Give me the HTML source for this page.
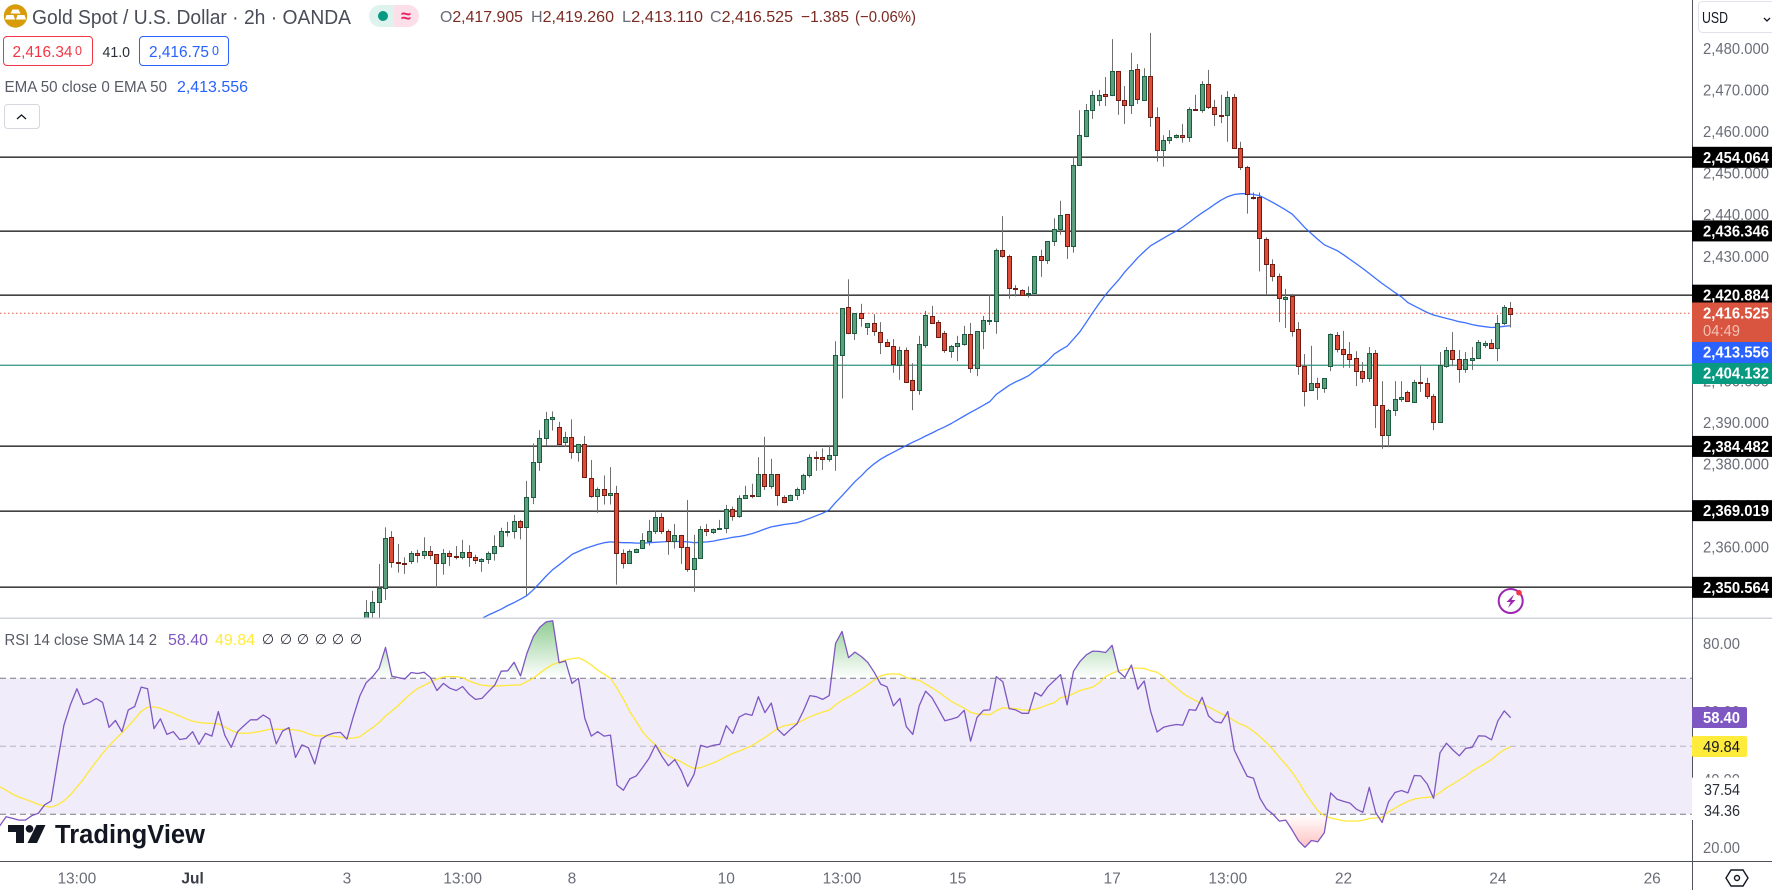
<!DOCTYPE html>
<html lang="en">
<head>
<meta charset="utf-8">
<title>Gold Spot / U.S. Dollar 2h chart</title>
<style>
html,body{margin:0;padding:0;background:#fff;}
svg{display:block;font-family:"Liberation Sans",sans-serif;}
.axis{fill:#6a6d78;font-size:16px;}
.tag{fill:#fff;font-size:16px;font-weight:700;}
.legend{fill:#585b66;font-size:16px;}
.ohlc{fill:#7a2a22;font-size:16px;}
.ohlc tspan{fill:#6a6d78;}
.time{fill:#6a6d78;font-size:15.5px;text-anchor:middle;}
</style>
</head>
<body>
<svg id="chart" width="1772" height="890" viewBox="0 0 1772 890" xmlns="http://www.w3.org/2000/svg">
  <defs>
    <clipPath id="priceClip"><rect x="0" y="0" width="1692" height="617.5"/></clipPath>
    <clipPath id="rsiClip"><rect x="0" y="619" width="1692" height="242"/></clipPath>
    <clipPath id="aboveClip"><rect id="aboveRect" x="0" y="619" width="1692" height="59.3"/></clipPath>
    <clipPath id="belowClip"><rect id="belowRect" x="0" y="814.3" width="1692" height="47"/></clipPath>
    <linearGradient id="obGrad" gradientUnits="userSpaceOnUse" x1="0" y1="621" x2="0" y2="678">
      <stop offset="0" stop-color="#4caf50" stop-opacity="0.62"/>
      <stop offset="1" stop-color="#4caf50" stop-opacity="0"/>
    </linearGradient>
    <linearGradient id="osGrad" gradientUnits="userSpaceOnUse" x1="0" y1="814" x2="0" y2="848">
      <stop offset="0" stop-color="#ff5252" stop-opacity="0"/>
      <stop offset="1" stop-color="#ff5252" stop-opacity="0.36"/>
    </linearGradient>
  </defs>
  <rect x="0" y="0" width="1772" height="890" fill="#ffffff"/>

  <g id="levelLayer"></g>
  <g id="emaLayer" clip-path="url(#priceClip)"></g>
  <g id="candleLayer" clip-path="url(#priceClip)"></g>

  <rect id="rsiBand" x="0" y="678.3" width="1692" height="136" fill="#f0ecf9"/>
  <g id="rsiGuides"></g>
  <g id="rsiLayer" clip-path="url(#rsiClip)"></g>

  <rect x="0" y="617.5" width="1772" height="1.5" fill="#d1d4dc"/>
  <rect x="0" y="861" width="1772" height="1" fill="#50535e"/>
  <rect x="1692" y="0" width="1" height="890" fill="#50535e"/>

  <g id="priceAxis"></g>
  <g id="rsiAxis"></g>
  <g id="timeAxis"></g>
  <g id="levelTags"></g>

  <g>
    <rect x="1692" y="302.5" width="80" height="39.5" fill="#d9553f"/>
    <text class="tag" x="1703" y="318.5" textLength="66" lengthAdjust="spacingAndGlyphs">2,416.525</text>
    <text x="1703" y="336" fill="#f3c0b6" font-size="16" textLength="37" lengthAdjust="spacingAndGlyphs">04:49</text>
  </g>
  <g>
    <rect x="1692" y="342" width="80" height="21" fill="#2962ff"/>
    <text class="tag" x="1703" y="357.5" textLength="66" lengthAdjust="spacingAndGlyphs">2,413.556</text>
  </g>
  <g>
    <rect x="1692" y="363" width="80" height="21" fill="#089981"/>
    <text class="tag" x="1703" y="378.5" textLength="66" lengthAdjust="spacingAndGlyphs">2,404.132</text>
  </g>

  <g>
    <rect x="1692" y="707" width="55" height="21" rx="2" fill="#7e57c2"/>
    <text class="tag" x="1703" y="723" textLength="37" lengthAdjust="spacingAndGlyphs">58.40</text>
    <rect x="1692" y="736" width="55" height="21" rx="2" fill="#ffeb3b"/>
    <text x="1703" y="752" fill="#131722" font-size="16" textLength="37" lengthAdjust="spacingAndGlyphs">49.84</text>
    <rect x="1692" y="777.7" width="80" height="42.3" fill="#ffffff"/>
    <text x="1704" y="795" fill="#2a2e39" font-size="16" textLength="36" lengthAdjust="spacingAndGlyphs">37.54</text>
    <text x="1704" y="816" fill="#2a2e39" font-size="16" textLength="36" lengthAdjust="spacingAndGlyphs">34.36</text>
  </g>

  <g>
    <circle cx="15.5" cy="16" r="11.7" fill="#d89c0a"/>
    <path d="M12.5 9.5h6l2 4h-10zM6.5 15h7l1.5 4.5H5zM17.5 15h7l1.5 4.5H16z" fill="#ffffff"/>
    <text x="32" y="24" fill="#4a4d57" font-size="20" textLength="319" lengthAdjust="spacingAndGlyphs">Gold Spot / U.S. Dollar · 2h · OANDA</text>
    <path d="M394 5h-14a11 11 0 0 0 0 22h14z" fill="#dff3ee"/>
    <path d="M394 5h14a11 11 0 0 1 0 22h-14z" fill="#fcdfe8"/>
    <circle cx="383" cy="16" r="5" fill="#089981"/>
    <text x="406" y="22" fill="#e91e63" font-size="18" font-weight="700" text-anchor="middle">≈</text>
    <text class="ohlc" x="440" y="22" textLength="83" lengthAdjust="spacingAndGlyphs"><tspan>O</tspan>2,417.905</text>
    <text class="ohlc" x="531" y="22" textLength="83" lengthAdjust="spacingAndGlyphs"><tspan>H</tspan>2,419.260</text>
    <text class="ohlc" x="622" y="22" textLength="81" lengthAdjust="spacingAndGlyphs"><tspan>L</tspan>2,413.110</text>
    <text class="ohlc" x="710" y="22" textLength="83" lengthAdjust="spacingAndGlyphs"><tspan>C</tspan>2,416.525</text>
    <text class="ohlc" x="801" y="22" textLength="48" lengthAdjust="spacingAndGlyphs">−1.385</text>
    <text class="ohlc" x="855" y="22" textLength="61" lengthAdjust="spacingAndGlyphs">(−0.06%)</text>
  </g>

  <g>
    <rect x="3.5" y="36.5" width="89" height="29" rx="3.5" fill="#fff" stroke="#f23645"/>
    <text x="12.5" y="57" fill="#f23645" font-size="16" textLength="60" lengthAdjust="spacingAndGlyphs">2,416.34</text>
    <text x="75" y="55" fill="#f23645" font-size="12.5">0</text>
    <text x="102.5" y="57" fill="#2a2e39" font-size="15" textLength="27.5" lengthAdjust="spacingAndGlyphs">41.0</text>
    <rect x="139.5" y="36.5" width="89" height="29" rx="3.5" fill="#fff" stroke="#2962ff"/>
    <text x="149" y="57" fill="#2962ff" font-size="16" textLength="60" lengthAdjust="spacingAndGlyphs">2,416.75</text>
    <text x="212" y="55" fill="#2962ff" font-size="12.5">0</text>
  </g>

  <text class="legend" x="4.5" y="92" textLength="162.5" lengthAdjust="spacingAndGlyphs">EMA 50 close 0 EMA 50</text>
  <text x="177" y="92" fill="#2962ff" font-size="16" textLength="71" lengthAdjust="spacingAndGlyphs">2,413.556</text>
  <g>
    <rect x="4.5" y="104.5" width="35" height="24" rx="3" fill="#fff" stroke="#d6d8e0"/>
    <path d="M17 119l4.500-4 4.500 4" fill="none" stroke="#131722" stroke-width="1.300"/>
  </g>

  <g>
    <text class="legend" x="4.500" y="645" textLength="152.500" lengthAdjust="spacingAndGlyphs">RSI 14 close SMA 14 2</text>
    <text x="168" y="645" fill="#7e57c2" font-size="16" textLength="40" lengthAdjust="spacingAndGlyphs">58.40</text>
    <text x="215" y="645" fill="#ffeb3b" font-size="16" textLength="40" lengthAdjust="spacingAndGlyphs">49.84</text>
    <text x="268" y="644" fill="#2a2e39" font-size="14" text-anchor="middle">∅</text>
    <text x="286" y="644" fill="#2a2e39" font-size="14" text-anchor="middle">∅</text>
    <text x="303" y="644" fill="#2a2e39" font-size="14" text-anchor="middle">∅</text>
    <text x="321" y="644" fill="#2a2e39" font-size="14" text-anchor="middle">∅</text>
    <text x="338" y="644" fill="#2a2e39" font-size="14" text-anchor="middle">∅</text>
    <text x="356" y="644" fill="#2a2e39" font-size="14" text-anchor="middle">∅</text>
  </g>

  <g>
    <path d="M8 825h16v18h-8v-11h-8z" fill="#131722"/>
    <circle cx="29.500" cy="828.800" r="3.800" fill="#131722"/>
    <path d="M36.500 825h9l-8.500 18h-9.500z" fill="#131722"/>
    <text x="55" y="843" fill="#131722" font-size="25.500" font-weight="700" textLength="150" lengthAdjust="spacingAndGlyphs">TradingView</text>
  </g>

  <g>
    <rect x="1698.500" y="1.500" width="80" height="31" rx="4" fill="#fff" stroke="#e0e3eb"/>
    <text x="1702" y="23" fill="#131722" font-size="16" textLength="26" lengthAdjust="spacingAndGlyphs">USD</text>
    <path d="M1764 18l3 3 3-3" fill="none" stroke="#131722" stroke-width="1.300"/>
  </g>

  <g>
    <circle cx="1510.700" cy="601" r="12" fill="#fff" stroke="#9c27b0" stroke-width="2"/>
    <path d="M1514 594.500l-7.500 7.500h4l-2.500 6 7.500-8h-4z" fill="#9c27b0"/>
    <circle cx="1519" cy="592.700" r="2.800" fill="#f23645"/>
  </g>

  <g>
    <path d="M1731 870h12l5 8-5 8h-12l-5-8z" fill="none" stroke="#131722" stroke-width="1.400"/>
    <circle cx="1737" cy="878" r="2.500" fill="none" stroke="#131722" stroke-width="1.400"/>
  </g>
</svg>

<script>
const firstCandleBar = 0;
const openPrices = [
2341.9,2344.6,2347.0,2350.3,2362.6,2356.6,2356.4,2356.8,2358.8,2358.4,
2359.3,2358.5,2356.4,2358.8,2358.0,2357.7,2359.0,2357.9,2356.8,2357.3,
2358.8,2360.5,2364.1,2364.1,2366.5,2365.0,2372.2,2380.7,2386.4,2391.0,
2389.2,2385.4,2386.7,2383.0,2385.0,2377.0,2372.6,2374.2,2372.6,2373.2,
2358.8,2356.5,2358.9,2359.9,2361.8,2364.1,2367.4,2364.1,2361.7,2363.1,
2360.2,2354.9,2357.6,2364.5,2363.7,2364.7,2364.7,2369.3,2367.6,2371.9,
2372.7,2372.4,2377.8,2374.8,2377.8,2372.4,2371.8,2372.7,2374.2,2377.5,
2382.0,2381.9,2381.4,2382.3,2406.4,2418.0,2411.7,2416.5,2413.1,2414.1,
2411.9,2409.5,2408.6,2404.2,2407.8,2400.4,2398.0,2408.7,2415.8,2414.4,
2411.7,2407.5,2408.5,2409.2,2411.5,2403.2,2412.1,2414.8,2414.8,2431.7,
2430.2,2422.6,2422.1,2421.2,2421.3,2430.2,2429.3,2433.9,2436.7,2440.3,
2432.6,2452.1,2459.2,2465.4,2467.8,2469.2,2469.0,2474.8,2467.8,2466.5,
2475.2,2467.9,2473.6,2463.7,2455.7,2458.1,2458.9,2459.4,2458.9,2465.6,
2465.3,2471.6,2466.1,2464.2,2464.1,2468.5,2456.2,2451.7,2444.5,2444.4,
2434.3,2428.3,2425.4,2420.0,2420.8,2412.7,2403.8,2397.9,2399.7,2398.6,
2403.7,2411.2,2407.9,2406.7,2405.7,2402.6,2400.8,2406.9,2394.4,2387.1,
2393.1,2395.8,2397.5,2395.2,2399.9,2399.7,2396.5,2390.2,2403.9,2407.6,
2405.5,2403.0,2405.4,2405.7,2408.7,2409.3,2408.2,2414.1,2417.905];
const highPrices = [
2347.5,2349.7,2356.2,2365.0,2364.1,2361.0,2357.8,2359.3,2359.6,2362.6,
2360.5,2358.5,2359.8,2359.4,2360.5,2362.0,2360.7,2358.4,2357.6,2359.2,
2363.1,2364.9,2366.3,2368.0,2366.8,2376.2,2385.2,2388.4,2392.8,2392.9,
2390.4,2388.0,2391.0,2385.0,2387.0,2381.2,2374.6,2377.5,2379.5,2375.0,
2359.7,2359.7,2359.9,2363.6,2366.8,2368.9,2368.4,2364.5,2365.8,2363.2,
2371.6,2363.2,2365.3,2365.8,2364.7,2366.8,2370.4,2370.0,2372.7,2375.0,
2375.5,2381.9,2386.8,2381.5,2377.8,2372.7,2372.9,2374.6,2377.9,2382.6,
2383.3,2384.0,2384.8,2409.8,2417.8,2424.7,2416.5,2418.8,2414.1,2416.3,
2414.4,2410.3,2410.3,2408.5,2408.3,2404.5,2411.1,2417.1,2418.3,2414.9,
2412.3,2408.9,2411.1,2413.5,2414.2,2412.2,2415.9,2420.9,2432.1,2439.9,
2430.6,2423.3,2422.3,2423.0,2430.3,2431.8,2433.9,2439.4,2443.6,2440.3,
2454.1,2465.4,2466.9,2470.1,2470.3,2473.4,2482.5,2474.8,2471.2,2479.2,
2476.5,2475.5,2484.0,2466.1,2459.4,2460.6,2459.6,2462.1,2466.1,2469.1,
2472.4,2475.1,2467.9,2469.1,2470.0,2469.3,2457.8,2452.0,2445.6,2445.6,
2434.8,2429.5,2426.1,2422.4,2421.2,2414.4,2406.7,2408.7,2401.0,2400.9,
2411.7,2412.0,2412.3,2409.6,2407.4,2404.8,2408.4,2407.7,2400.2,2393.5,
2400.2,2400.2,2397.9,2400.5,2404.1,2401.0,2397.1,2407.2,2408.4,2412.0,
2407.7,2407.2,2408.4,2410.1,2409.9,2410.3,2416.1,2418.5,2419.26];
const lowPrices = [
2340.7,2342.7,2343.1,2347.5,2355.3,2354.1,2353.8,2356.2,2356.5,2357.4,
2357.2,2350.5,2353.6,2355.7,2357.3,2357.3,2355.5,2356.2,2354.3,2356.2,
2357.0,2360.2,2362.8,2362.3,2362.1,2348.7,2370.6,2378.6,2384.6,2388.3,
2385.1,2384.4,2381.5,2380.8,2377.0,2372.1,2368.5,2370.5,2370.5,2351.2,
2355.1,2356.4,2358.8,2359.9,2360.6,2363.4,2363.4,2358.4,2359.9,2356.2,
2354.3,2349.5,2357.6,2362.9,2363.4,2364.5,2363.6,2366.6,2367.3,2371.8,
2372.0,2372.4,2374.0,2374.3,2370.2,2370.8,2371.4,2371.6,2373.0,2377.0,
2378.6,2378.8,2380.8,2378.6,2396.0,2411.5,2410.1,2413.3,2411.3,2411.1,
2406.7,2408.4,2402.2,2400.5,2400.1,2393.2,2396.9,2408.2,2414.0,2410.8,
2407.0,2405.8,2405.0,2408.7,2402.2,2401.4,2407.9,2413.7,2411.6,2429.9,
2420.0,2420.6,2420.9,2420.3,2421.2,2425.3,2428.4,2432.7,2435.4,2429.6,
2431.1,2452.0,2458.9,2463.3,2466.4,2466.4,2468.8,2464.3,2462.1,2464.5,
2466.9,2467.7,2461.4,2453.0,2451.8,2457.3,2458.6,2457.6,2457.8,2465.4,
2464.8,2465.7,2461.6,2462.3,2457.8,2456.2,2451.0,2440.5,2443.9,2426.6,
2420.9,2424.2,2414.4,2413.0,2410.9,2401.7,2394.1,2397.9,2395.7,2397.4,
2402.6,2407.1,2403.4,2403.4,2399.0,2399.8,2400.0,2388.9,2383.9,2384.3,
2391.8,2395.2,2395.2,2394.9,2397.6,2395.9,2388.4,2390.2,2403.4,2403.8,
2399.8,2402.2,2402.9,2405.6,2408.2,2408.0,2405.0,2413.7,2413.11];
const closePrices = [
2344.6,2347.0,2350.4,2362.4,2356.5,2356.4,2356.1,2358.8,2358.4,2359.3,
2358.4,2356.4,2358.8,2358.0,2357.7,2359.0,2357.7,2357.1,2357.3,2358.8,
2360.5,2364.1,2364.2,2366.5,2365.0,2372.2,2380.7,2386.4,2391.0,2391.5,
2385.2,2386.7,2383.0,2385.0,2377.0,2372.6,2374.2,2372.7,2373.2,2358.7,
2356.5,2359.3,2359.7,2361.9,2364.1,2367.4,2364.0,2361.7,2363.1,2360.1,
2354.9,2357.6,2364.5,2364.0,2364.5,2364.8,2369.3,2367.6,2372.0,2372.7,
2372.4,2377.8,2374.8,2377.8,2372.7,2371.2,2372.9,2374.2,2377.5,2381.9,
2381.8,2381.4,2382.3,2406.4,2417.7,2411.7,2416.5,2415.3,2414.1,2412.1,
2409.5,2408.6,2404.2,2407.7,2400.2,2398.0,2409.1,2416.0,2414.0,2410.9,
2407.5,2408.6,2409.3,2411.5,2403.2,2412.2,2414.8,2414.9,2431.8,2430.2,
2422.6,2422.5,2421.0,2421.4,2430.2,2429.2,2433.9,2436.7,2440.1,2432.6,
2452.1,2459.4,2465.4,2469.0,2469.0,2468.7,2474.8,2467.8,2466.5,2475.0,
2468.0,2473.6,2463.7,2455.7,2458.2,2458.9,2459.4,2458.9,2465.6,2465.4,
2471.6,2466.0,2464.3,2464.1,2468.5,2456.2,2451.6,2445.2,2444.4,2434.6,
2428.3,2425.4,2420.0,2420.4,2412.3,2403.7,2397.9,2399.7,2398.7,2400.9,
2411.5,2407.9,2406.6,2405.6,2402.5,2400.8,2406.9,2394.3,2387.1,2393.2,
2395.8,2396.3,2395.3,2399.9,2399.6,2396.5,2390.2,2404.0,2407.7,2405.5,
2403.0,2405.5,2405.8,2409.5,2409.3,2408.2,2414.1,2418.0,2416.525];

const firstEmaBar = 17;
const emaValues = [
2342.2,2343.1,2343.9,2344.6,2345.3,2346.2,2346.9,2347.7,2348.6,2350.0,
2351.6,2353.3,2354.8,2356.0,2357.2,2358.5,2359.2,2359.9,2360.4,2360.9,
2361.3,2361.5,2361.4,2361.3,2361.3,2361.2,2361.2,2361.3,2361.4,2361.5,
2361.6,2361.6,2361.6,2361.5,2361.3,2361.4,2361.5,2361.7,2362.0,2362.3,
2362.6,2362.8,2363.1,2363.5,2364.0,2364.6,2365.1,2365.4,2365.7,2365.9,
2366.1,2366.6,2367.2,2367.8,2368.4,2369.2,2371.0,2372.6,2374.3,2376.0,
2377.4,2379.0,2380.3,2381.4,2382.3,2383.1,2383.9,2384.7,2385.5,2386.2,
2387.0,2387.7,2388.5,2389.2,2390.0,2390.9,2391.8,2392.7,2393.5,2394.4,
2395.3,2397.0,2398.1,2399.2,2400.0,2400.7,2401.5,2402.7,2403.8,2405.1,
2406.7,2407.7,2408.6,2410.3,2412.1,2414.4,2416.7,2418.9,2421.0,2422.8,
2424.5,2426.5,2428.2,2429.9,2431.4,2432.8,2433.7,2434.6,2435.5,2436.3,
2437.3,2438.4,2439.6,2440.7,2441.7,2442.8,2443.8,2444.6,2445.1,2445.3,
2445.3,2445.1,2444.8,2444.0,2443.2,2442.3,2441.4,2440.4,2438.8,2437.1,
2435.7,2434.3,2433.0,2432.3,2431.6,2430.6,2429.5,2428.4,2427.3,2426.1,
2424.9,2423.7,2422.6,2421.5,2420.5,2419.1,2418.3,2417.5,2416.7,2416.1,
2415.7,2415.3,2414.9,2414.5,2414.2,2413.8,2413.5,2413.3,2413.1,2413.2,
2413.4,2413.556];

const firstRsiBar = -57;
const rsiValues = [
26.6,29.3,28.8,28.3,28.3,29.6,30.3,32.8,33.9,45.5,56.3,62.2,66.9,62.3,62.9,64.1,62.9,55.6,57.6,54.3,
60.7,61.7,67.4,66.9,55.2,58.1,53.5,54.3,52.0,52.3,54.3,50.6,53.8,53.0,60.2,53.3,49.7,54.3,56.1,57.8,
57.8,59.2,58.0,50.7,54.5,55.5,46.7,50.4,49.6,44.8,52.1,53.3,53.9,54.1,52.1,58.7,64.8,
68.7,70.5,72.9,79.1,70.6,70.2,69.8,71.7,71.4,71.8,70.2,66.4,68.5,67.1,66.4,67.6,65.3,63.8,64.1,66.1,
68.0,72.1,72.2,74.7,70.7,77.4,82.3,85.0,86.6,86.9,74.6,75.1,68.5,70.0,58.2,53.0,54.3,53.0,53.3,38.6,
37.1,40.4,41.3,43.8,46.5,50.4,47.0,44.3,46.1,42.8,38.2,41.8,50.3,49.7,50.3,50.6,56.1,53.8,58.6,59.6,
59.1,64.6,59.9,62.7,55.0,53.2,55.0,56.6,60.4,64.9,64.6,63.8,64.9,80.3,83.8,76.1,77.7,76.4,74.7,71.8,
68.3,67.5,61.9,64.1,55.8,53.5,61.9,66.2,64.3,60.9,57.5,58.0,58.6,60.6,51.5,58.5,60.6,60.7,70.5,69.0,
61.1,60.7,59.7,59.7,65.8,64.8,67.5,69.3,71.1,62.2,72.1,74.9,76.9,78.0,77.9,77.6,79.7,72.0,70.3,73.9,
66.8,69.2,60.2,54.2,55.6,56.1,56.4,56.2,60.8,60.6,64.4,58.9,57.2,56.9,60.2,48.9,45.0,41.2,40.6,34.7,
31.6,30.1,28.0,28.3,25.4,22.2,20.3,22.3,21.9,24.6,36.3,34.4,33.8,33.3,31.5,30.6,37.9,30.5,27.6,33.7,
36.4,37.0,36.3,41.4,41.3,38.9,34.7,48.1,50.9,48.9,47.2,49.4,49.7,53.1,53.0,51.9,57.5,60.4,58.40];
const smaValues = [
38.1,37.1,35.9,35.1,34.4,33.7,32.9,32.4,32.1,32.8,34.0,35.7,38.0,40.3,43.0,45.5,47.9,50.1,52.1,53.9,
55.9,58.0,60.3,61.5,61.6,61.2,60.4,59.7,58.9,58.1,57.4,57.0,56.8,56.7,56.6,55.7,54.7,53.9,53.8,53.9,
54.2,54.6,55.0,55.0,55.0,55.0,54.8,54.4,53.7,53.1,53.1,53.1,52.9,52.7,52.4,52.4,52.8,
54.2,55.5,57.0,58.9,60.4,62.0,63.9,65.6,67.0,67.9,68.9,69.8,70.4,70.5,70.5,70.2,69.2,68.5,68.0,67.8,
67.7,67.8,67.9,68.0,68.1,69.1,70.1,71.5,72.9,74.1,74.7,75.4,75.8,76.0,75.2,73.9,72.4,71.2,70.0,67.1,
63.9,60.2,57.3,54.2,52.1,50.4,48.5,47.2,46.3,45.4,44.3,43.5,43.7,44.4,45.1,46.0,47.0,47.9,48.6,49.4,
50.2,51.4,52.6,53.9,55.3,56.0,56.4,56.8,57.7,58.7,59.4,60.1,60.6,62.2,63.5,64.5,65.7,66.8,68.1,69.5,
70.7,71.2,71.3,71.2,70.2,69.7,69.4,68.3,67.2,66.0,64.6,63.2,62.2,61.2,60.0,59.5,59.4,59.3,60.5,61.3,
61.2,61.1,60.7,60.6,60.9,61.5,62.2,62.8,64.3,64.7,65.5,66.4,66.9,67.4,68.7,70.5,71.5,72.2,72.6,73.0,
73.0,72.9,72.2,71.8,70.5,68.7,67.2,65.6,64.4,63.4,62.5,61.6,60.6,59.6,58.7,57.5,56.5,55.7,54.4,52.8,
51.1,49.1,46.8,44.7,42.4,39.6,36.4,33.7,31.1,29.6,28.9,28.5,28.1,28.0,28.0,28.2,28.8,28.9,29.1,30.7,
31.8,32.9,33.8,34.5,34.8,35.0,35.2,36.4,37.8,38.9,40.1,41.3,42.7,43.8,44.9,46.1,47.7,49.0,49.84];

const priceTicks = [2480,2470,2460,2450,2440,2430,2420,2410,2400,2390,2380,2370,2360];
const blackLevels = [2454.064,2436.346,2420.884,2384.482,2369.019,2350.564];
const tealLevel = 2404.132;
const lastPrice = 2416.525;
const rsiTicks = [80,60,40,20];
const rsiUpperBand = 70;
const rsiMiddleBand = 50;
const rsiLowerBand = 30;
const timeTickBars = [-45,-27,-3,15,32,56,74,92,116,134,152,176,200];
const timeTickLabels = ['13:00','Jul','3','13:00','8','10','13:00','15','17','13:00','22','24','26'];

const NS = 'http://www.w3.org/2000/svg';
function xBar(i){ return 366.2 + 6.43 * i; }
function yPrice(p){ return 157.3 + (2454.064 - p) * 4.155; }
function yRsi(r){ return 678.3 + (70 - r) * 3.4; }
function fmtPrice(v){ return v.toLocaleString('en-US',{minimumFractionDigits:3,maximumFractionDigits:3}); }
function make(tag, parent){
  const el = document.createElementNS(NS, tag);
  parent.appendChild(el);
  return el;
}
function setAll(el, attrs){
  for (const k in attrs) el.setAttribute(k, attrs[k]);
}
function pointsOf(values, firstBar, yFn){
  return values.map((v,k) => xBar(firstBar + k).toFixed(1) + ',' + yFn(v).toFixed(1)).join(' ');
}

const levelLayer = document.getElementById('levelLayer');
blackLevels.forEach(level => {
  const ln = make('rect', levelLayer);
  
  
  setAll(ln, {x:0, y:Math.round(yPrice(level)) - 0.5, width:1692, height:1.3, fill:'#131313'});
});
const tealLine = make('rect', levelLayer);


setAll(tealLine, {x:0, y:yPrice(tealLevel) - 0.1, width:1692, height:1.1, fill:'#14886f'});
const lastLine = make('line', levelLayer);


setAll(lastLine, {x1:0, x2:1692, y1:yPrice(lastPrice), y2:yPrice(lastPrice), stroke:'#d9553f', 'stroke-width':1, 'stroke-dasharray':'1.500 2.500'});

const emaLine = make('polyline', document.getElementById('emaLayer'));


setAll(emaLine, {points:pointsOf(emaValues, firstEmaBar, yPrice), fill:'none', stroke:'#2962ff', 'stroke-width':1.3, 'stroke-linejoin':'round', opacity:0.9});

const candleLayer = document.getElementById('candleLayer');
openPrices.forEach((o,k) => {
  const h = highPrices[k], l = lowPrices[k], c = closePrices[k];
  const up = c >= o;
  const rc = Math.floor(xBar(firstCandleBar + k));
  const g = make('g', candleLayer);
  
  
  const wick = make('rect', g);
  
  
  setAll(wick, {x:rc, y:yPrice(h), width:1, height:Math.max(yPrice(l) - yPrice(h), 1), fill:'#6f6f6f'});
  const top = Math.round(yPrice(Math.max(o,c)));
  const ht = Math.round(Math.abs(yPrice(o) - yPrice(c)));
  const body = make('rect', g);
  
  
  setAll(body, {x:rc - 1.5, y:top + 0.5, width:4, height:Math.max(ht, 1), fill:up ? '#5b9f7e' : '#dc4c38', stroke:up ? '#1d5c40' : '#701c13', 'stroke-width':1});
});

const guides = document.getElementById('rsiGuides');
[[rsiUpperBand,'#787b86','rsi-upper-band-line'],[rsiMiddleBand,'#b4b3bf','rsi-middle-band-line'],[rsiLowerBand,'#787b86','rsi-lower-band-line']].forEach(row => {
  const ln = make('line', guides);
  
  
  setAll(ln, {x1:0, x2:1692, y1:yRsi(row[0]), y2:yRsi(row[0]), stroke:row[1], 'stroke-width':1, 'stroke-dasharray':'6 4'});
});
document.getElementById('rsiBand').setAttribute('y', yRsi(rsiUpperBand));
document.getElementById('rsiBand').setAttribute('height', yRsi(rsiLowerBand) - yRsi(rsiUpperBand));
document.getElementById('aboveRect').setAttribute('height', yRsi(rsiUpperBand) - 619);
document.getElementById('belowRect').setAttribute('y', yRsi(rsiLowerBand));

const rsiLayer = document.getElementById('rsiLayer');
const lastRsiX = xBar(firstRsiBar + rsiValues.length - 1).toFixed(1);
const firstRsiX = xBar(firstRsiBar).toFixed(1);
const rsiPts = pointsOf(rsiValues, firstRsiBar, yRsi);
const obFill = make('polygon', rsiLayer);


setAll(obFill, {points:firstRsiX + ',' + yRsi(rsiUpperBand) + ' ' + rsiPts + ' ' + lastRsiX + ',' + yRsi(rsiUpperBand), fill:'url(#obGrad)', 'clip-path':'url(#aboveClip)'});
const osFill = make('polygon', rsiLayer);


setAll(osFill, {points:firstRsiX + ',' + yRsi(rsiLowerBand) + ' ' + rsiPts + ' ' + lastRsiX + ',' + yRsi(rsiLowerBand), fill:'url(#osGrad)', 'clip-path':'url(#belowClip)'});
const smaLine = make('polyline', rsiLayer);


setAll(smaLine, {points:pointsOf(smaValues, firstRsiBar, yRsi), fill:'none', stroke:'#ffe83b', 'stroke-width':1.3, 'stroke-linejoin':'round'});
const rsiLine = make('polyline', rsiLayer);


setAll(rsiLine, {points:rsiPts, fill:'none', stroke:'#7e57c2', 'stroke-width':1.3, 'stroke-linejoin':'round'});

const priceAxis = document.getElementById('priceAxis');
priceTicks.forEach(t => {
  const el = make('text', priceAxis);
  
  
  setAll(el, {x:1703, y:yPrice(t) + 4.5, class:'axis', textLength:66, lengthAdjust:'spacingAndGlyphs'});
  el.textContent = fmtPrice(t);
});

const rsiAxis = document.getElementById('rsiAxis');
rsiTicks.forEach(t => {
  const el = make('text', rsiAxis);
  
  
  setAll(el, {x:1703, y:yRsi(t) + 4.5, class:'axis', textLength:37, lengthAdjust:'spacingAndGlyphs'});
  el.textContent = t.toFixed(2);
});

const timeAxis = document.getElementById('timeAxis');
timeTickBars.forEach((b,k) => {
  const el = make('text', timeAxis);
  
  
  setAll(el, {x:xBar(b), y:883.5, class:'time'});
  if (timeTickLabels[k] === 'Jul') { el.setAttribute('fill', '#3a3d47'); el.style.fill = '#3a3d47'; el.style.fontWeight = '700'; }
  el.textContent = timeTickLabels[k];
});

const levelTags = document.getElementById('levelTags');
blackLevels.forEach(level => {
  const bg = make('rect', levelTags);
  
  
  setAll(bg, {x:1692, y:yPrice(level) - 10.5, width:80, height:21, fill:'#000000'});
  const tx = make('text', levelTags);
  
  
  setAll(tx, {x:1703, y:yPrice(level) + 5.5, class:'tag', textLength:66, lengthAdjust:'spacingAndGlyphs'});
  tx.textContent = fmtPrice(level);
});
</script>
</body>
</html>
